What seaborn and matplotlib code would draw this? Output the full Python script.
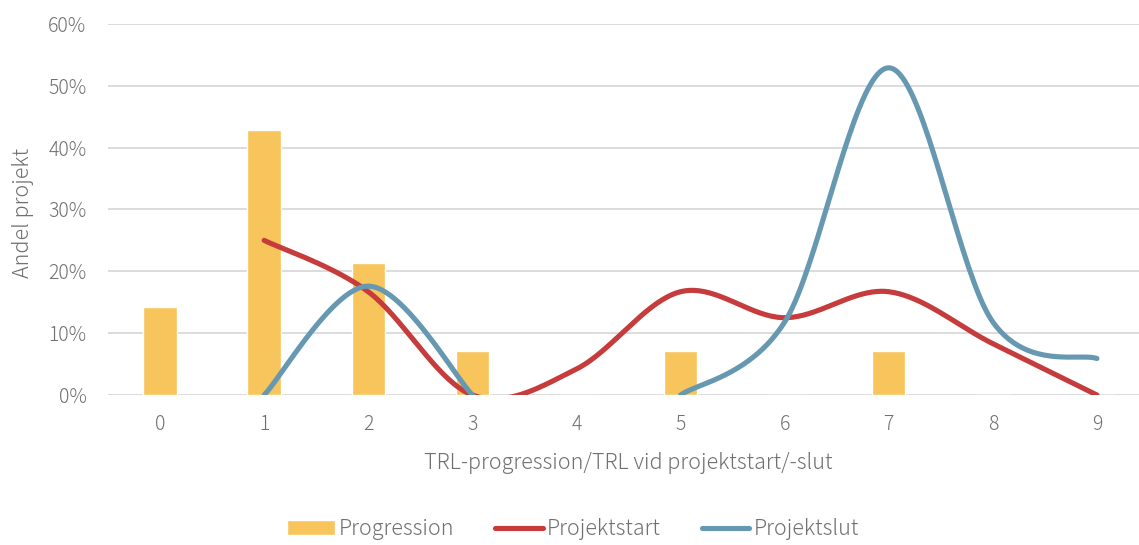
import numpy as np
import pandas as pd
import matplotlib
matplotlib.use("Agg")
import matplotlib.pyplot as plt
from matplotlib.lines import Line2D
from matplotlib.patches import Patch
from matplotlib.ticker import PercentFormatter
import seaborn as sns

# data (share of projects, %)
trl_levels = [0, 1, 2, 3, 4, 5, 6, 7, 8, 9]
progression = [14.3, 42.9, 21.4, 7.1, 0, 7.1, 0, 7.1, 0, 0]
start_x = [1, 2, 3, 4, 5, 6, 7, 8, 9]
projektstart = [25.0, 16.7, 0.0, 4.2, 16.7, 12.5, 16.7, 8.3, 0.0]
slut_segments_x = [[1, 2, 3], [5, 6, 7, 8, 9]]
slut_segments_y = [[0.0, 17.6, 0.0], [0.0, 11.8, 52.9, 11.8, 5.9]]

BAR_COLOR = "#F7C55B"
RED = "#C63B3B"
BLUE = "#6699B1"
TEXT = "#707070"


def smooth(xs, ys, n=40):
    # Excel-style smoothed line: Catmull-Rom as cubic Bezier
    p = np.column_stack([xs, ys]).astype(float)
    ext = np.vstack([p[0], p, p[-1]])
    t = np.linspace(0, 1, n)[:, None]
    out = []
    for i in range(len(p) - 1):
        p0, p1, p2, p3 = ext[i], ext[i + 1], ext[i + 2], ext[i + 3]
        c1 = p1 + (p2 - p0) / 6
        c2 = p2 - (p3 - p1) / 6
        seg = ((1 - t) ** 3) * p1 + 3 * ((1 - t) ** 2) * t * c1 + 3 * (1 - t) * t ** 2 * c2 + t ** 3 * p2
        out.append(seg if i == 0 else seg[1:])
    pts = np.vstack(out)
    return pd.DataFrame({"x": pts[:, 0], "y": pts[:, 1]})


sns.set_theme(style="white")
plt.rcParams["font.family"] = ["Noto Sans CJK JP", "DejaVu Sans"]
plt.rcParams["font.weight"] = "light"

fig = plt.figure(figsize=(11.39, 5.45), dpi=100)
ax = fig.add_axes([108 / 1139, 0.2752, 1041 / 1139, 0.681])

df = pd.DataFrame({"trl": trl_levels, "andel": progression})
sns.barplot(data=df, x="trl", y="andel", color=BAR_COLOR, width=0.32,
            saturation=1, ax=ax, zorder=2)

line_kw = dict(linewidth=3.7, solid_capstyle="round", solid_joinstyle="round")
s = smooth(start_x, projektstart)
sns.lineplot(data=s, x="x", y="y", sort=False, estimator=None, color=RED,
             ax=ax, zorder=3, **line_kw)
for xs, ys in zip(slut_segments_x, slut_segments_y):
    s = smooth(xs, ys)
    sns.lineplot(data=s, x="x", y="y", sort=False, estimator=None, color=BLUE,
                 ax=ax, zorder=4, **line_kw)

ax.set_xlim(-0.5, 9.5)
ax.set_ylim(0, 60)
ax.set_yticks(range(0, 61, 10))
ax.yaxis.set_major_formatter(PercentFormatter(decimals=0))
ax.yaxis.grid(True, color="#D9D9D9", linewidth=1.3, zorder=0)
ax.set_axisbelow(True)
for sp in ax.spines.values():
    sp.set_visible(False)
ax.tick_params(axis="both", colors=TEXT, labelsize=14, length=0)
ax.tick_params(axis="x", pad=14)
ax.tick_params(axis="y", pad=15.5)

ax.set_xlabel("TRL-progression/TRL vid projektstart/-slut", color=TEXT,
              fontsize=15.5, fontweight="light")
ax.set_ylabel("Andel projekt", color=TEXT, fontsize=15.5, fontweight="light")
ax.xaxis.set_label_coords(0.4995, -0.183)
ax.yaxis.set_label_coords(-0.082, 0.49)
ax.xaxis.label.set_va("center")
ax.yaxis.label.set_va("center")

handles = [
    Patch(facecolor=BAR_COLOR, label="Progression"),
    Line2D([], [], color=RED, linewidth=3.7, solid_capstyle="round", label="Projektstart"),
    Line2D([], [], color=BLUE, linewidth=3.7, solid_capstyle="round", label="Projektslut"),
]
leg = fig.legend(handles=handles, loc="lower center", ncol=3, frameon=False,
                 bbox_to_anchor=(0.503, -0.027), fontsize=15.5, handlelength=2.2,
                 handleheight=0.7, columnspacing=1.9, handletextpad=0.2)
for t in leg.get_texts():
    t.set_color(TEXT)

fig.savefig("out.png", dpi=100)
